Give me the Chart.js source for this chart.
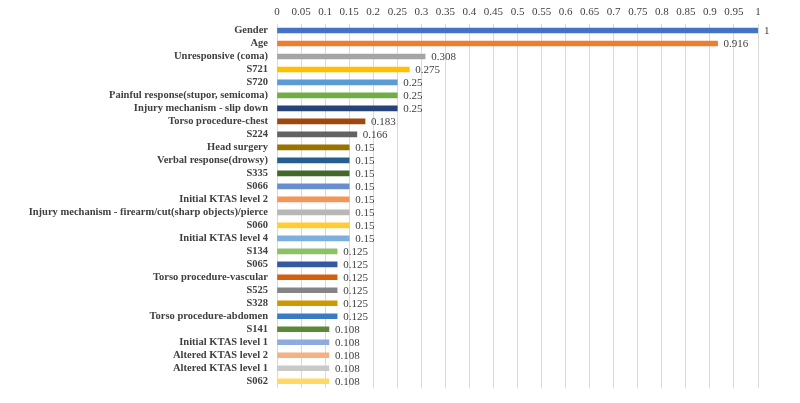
<!DOCTYPE html>
<html>
<head>
<meta charset="utf-8">
<script src="https://cdn.jsdelivr.net/npm/chart.js@4"></script>
<style>
  html, body { margin: 0; padding: 0; background: #fff; }
  #wrap { width: 800px; height: 403px; }
</style>
</head>
<body>
<div id="wrap"><canvas id="featChart"></canvas></div>
<script>
const categories = [
  'Gender', 'Age', 'Unresponsive (coma)', 'S721', 'S720',
  'Painful response(stupor, semicoma)', 'Injury mechanism - slip down',
  'Torso procedure-chest', 'S224', 'Head surgery', 'Verbal response(drowsy)',
  'S335', 'S066', 'Initial KTAS level 2',
  'Injury mechanism - firearm/cut(sharp objects)/pierce', 'S060',
  'Initial KTAS level 4', 'S134', 'S065', 'Torso procedure-vascular',
  'S525', 'S328', 'Torso procedure-abdomen', 'S141', 'Initial KTAS level 1',
  'Altered KTAS level 2', 'Altered KTAS level 1', 'S062'
];
const importance = [
  1, 0.916, 0.308, 0.275, 0.25,
  0.25, 0.25,
  0.183, 0.166, 0.15, 0.15,
  0.15, 0.15, 0.15,
  0.15, 0.15,
  0.15, 0.125, 0.125, 0.125,
  0.125, 0.125, 0.125, 0.108, 0.108,
  0.108, 0.108, 0.108
];
const valueLabels = [
  '1', '0.916', '0.308', '0.275', '0.25',
  '0.25', '0.25',
  '0.183', '0.166', '0.15', '0.15',
  '0.15', '0.15', '0.15',
  '0.15', '0.15',
  '0.15', '0.125', '0.125', '0.125',
  '0.125', '0.125', '0.125', '0.108', '0.108',
  '0.108', '0.108', '0.108'
];
// office-style palette, one colour per bar
const barColors = [
  '#4472C4', '#ED7D31', '#A5A5A5', '#FFC000', '#5B9BD5', '#70AD47', '#264478',
  '#9E480E', '#636363', '#997300', '#255E91', '#43682B', '#698ED0', '#F1975A',
  '#B7B7B7', '#FFCD33', '#7CAFDD', '#8CC168', '#335AA1', '#D26012', '#848484',
  '#CC9A00', '#3A7CC4', '#5A8A39', '#8FAADC', '#F4B183', '#C9C9C9', '#FFD966'
];

const textColor = '#404040';
const serif = "'Liberation Serif', 'DejaVu Serif', serif";

// draws the value next to each bar
const valueLabelPlugin = {
  id: 'valueLabels',
  afterDatasetsDraw(chart) {
    const ctx = chart.ctx;
    const meta = chart.getDatasetMeta(0);
    ctx.save();
    ctx.font = '11px ' + serif;
    ctx.fillStyle = textColor;
    ctx.textAlign = 'left';
    ctx.textBaseline = 'middle';
    meta.data.forEach((bar, i) => {
      ctx.fillText(valueLabels[i], bar.x + 6, bar.y + 1);
    });
    ctx.restore();
  }
};

new Chart(document.getElementById('featChart').getContext('2d'), {
  type: 'bar',
  data: {
    labels: categories,
    datasets: [{
      data: importance,
      backgroundColor: barColors,
      barThickness: 5
    }]
  },
  options: {
    indexAxis: 'y',
    responsive: true,
    maintainAspectRatio: false,
    animation: false,
    layout: { padding: { left: 0, right: 42, top: 0, bottom: 1 } },
    plugins: {
      legend: { display: false },
      tooltip: { enabled: false }
    },
    scales: {
      x: {
        position: 'top',
        min: 0,
        max: 1,
        afterFit: function (scale) { scale.height = 24; },
        afterBuildTicks: function (scale) {
          const t = [];
          for (let i = 0; i <= 20; i++) t.push({ value: i / 20 });
          scale.ticks = t;
        },
        ticks: {
          color: textColor,
          font: { family: serif, size: 11 },
          padding: 5,
          maxRotation: 0,
          autoSkip: false,
          callback: function (value) { return String(parseFloat(value.toFixed(2))); }
        },
        grid: { color: '#d9d9d9', drawTicks: false },
        border: { display: false }
      },
      y: {
        afterFit: function (scale) { scale.width = 277; },
        ticks: {
          color: textColor,
          font: { family: serif, size: 10.5, weight: 'bold' },
          padding: 9,
          autoSkip: false
        },
        grid: { display: false, drawTicks: false },
        border: { display: false }
      }
    }
  },
  plugins: [valueLabelPlugin]
});
</script>
</body>
</html>
